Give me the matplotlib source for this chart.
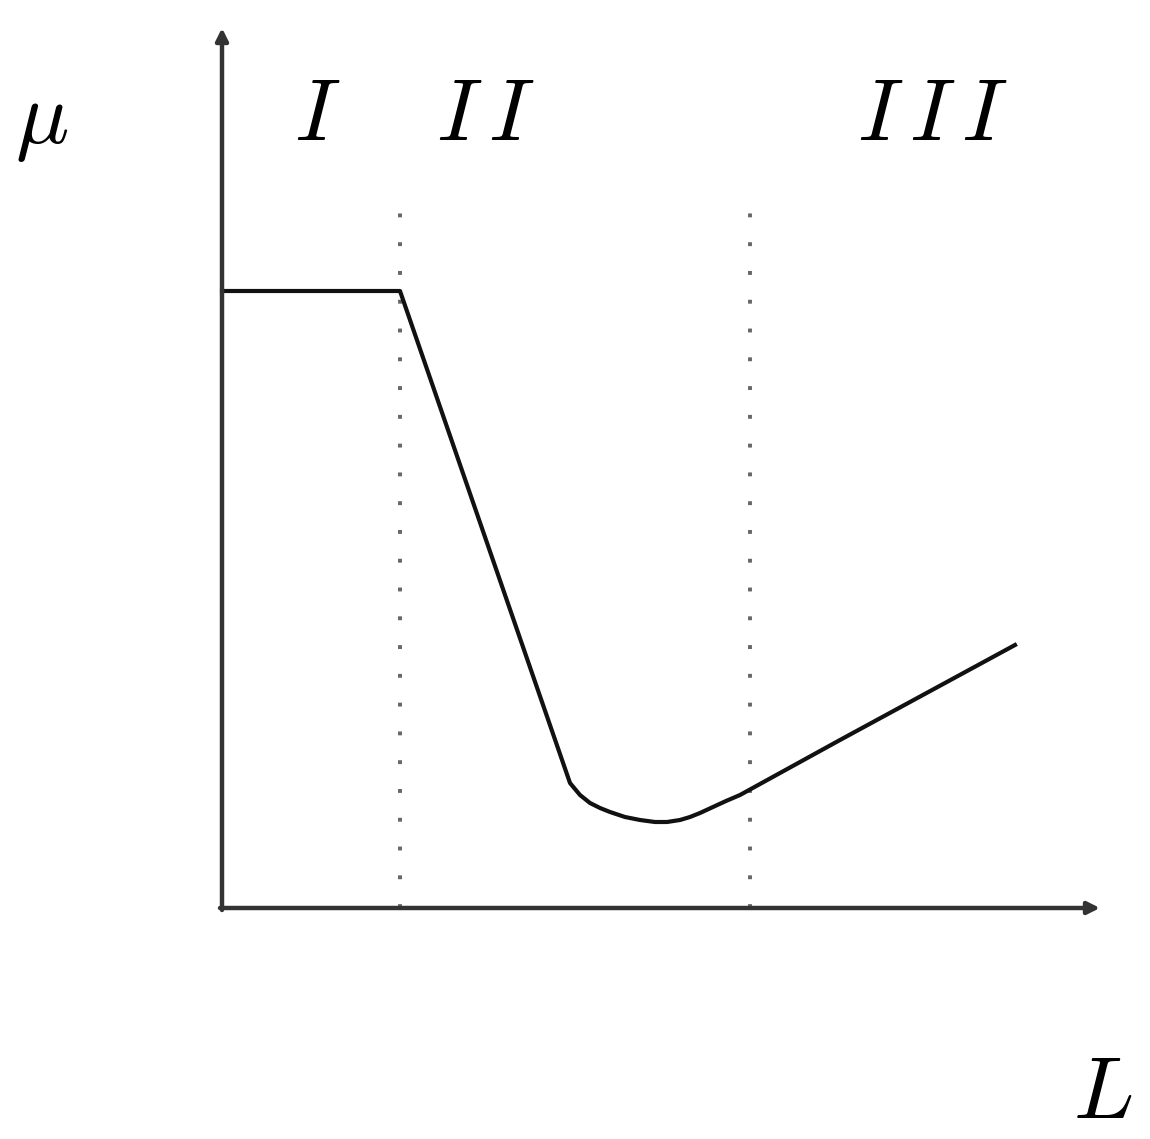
import matplotlib
matplotlib.use("Agg")
import matplotlib.pyplot as plt

plt.rcParams['mathtext.fontset'] = 'cm'

# friction curve mu(L) (arbitrary units)
curve_x = [0.00, 1.78, 3.48, 3.58, 3.68, 3.78, 3.88, 4.03, 4.18, 4.33, 4.45,
           4.58, 4.68, 4.78, 4.91, 5.04, 5.18, 6.18, 7.93]
curve_y = [6.17, 6.17, 1.25, 1.13, 1.05, 1.00, 0.96, 0.91, 0.88, 0.86, 0.86,
           0.88, 0.91, 0.95, 1.01, 1.07, 1.13, 1.68, 2.63]

# region boundaries
bounds_x = [1.78, 5.28]
bounds_top = 7.03

regions = [r'$I$', r'$I\,I$', r'$I\,I\,I$']
regions_x = [0.95, 2.63, 7.10]

x_end = 8.78
y_end = 8.80

fig = plt.figure(figsize=(11.5, 11.39), dpi=100)
ax = fig.add_axes([0, 0, 1, 1])
ax.set_xlim(-2.22, 9.28)
ax.set_ylim(-2.31, 9.08)
ax.axis('off')

# axes with arrows
arrow = dict(arrowstyle='-|>', lw=3.2, color='#333333', mutation_scale=18,
             shrinkA=0, shrinkB=0)
ax.annotate('', xy=(x_end, 0), xytext=(-0.02, 0), arrowprops=arrow)
ax.annotate('', xy=(0, y_end), xytext=(0, -0.02), arrowprops=arrow)

# dotted region boundaries
for bx in bounds_x:
    ax.plot([bx, bx], [0, bounds_top], color='#666666', lw=2.8,
            linestyle=(0, (1, 6.4)), solid_capstyle='butt')

ax.plot(curve_x, curve_y, color='#111111', lw=3.0, solid_joinstyle='round')

for lab, rx in zip(regions, regions_x):
    ax.text(rx, 7.93, lab, fontsize=64, ha='center', va='center')

ax.text(-1.80, 7.88, r'$\mu$', fontsize=64, ha='center', va='center')
ax.text(8.81, -1.85, '$L$', fontsize=64, ha='center', va='center')

fig.savefig('out.png', dpi=100)
